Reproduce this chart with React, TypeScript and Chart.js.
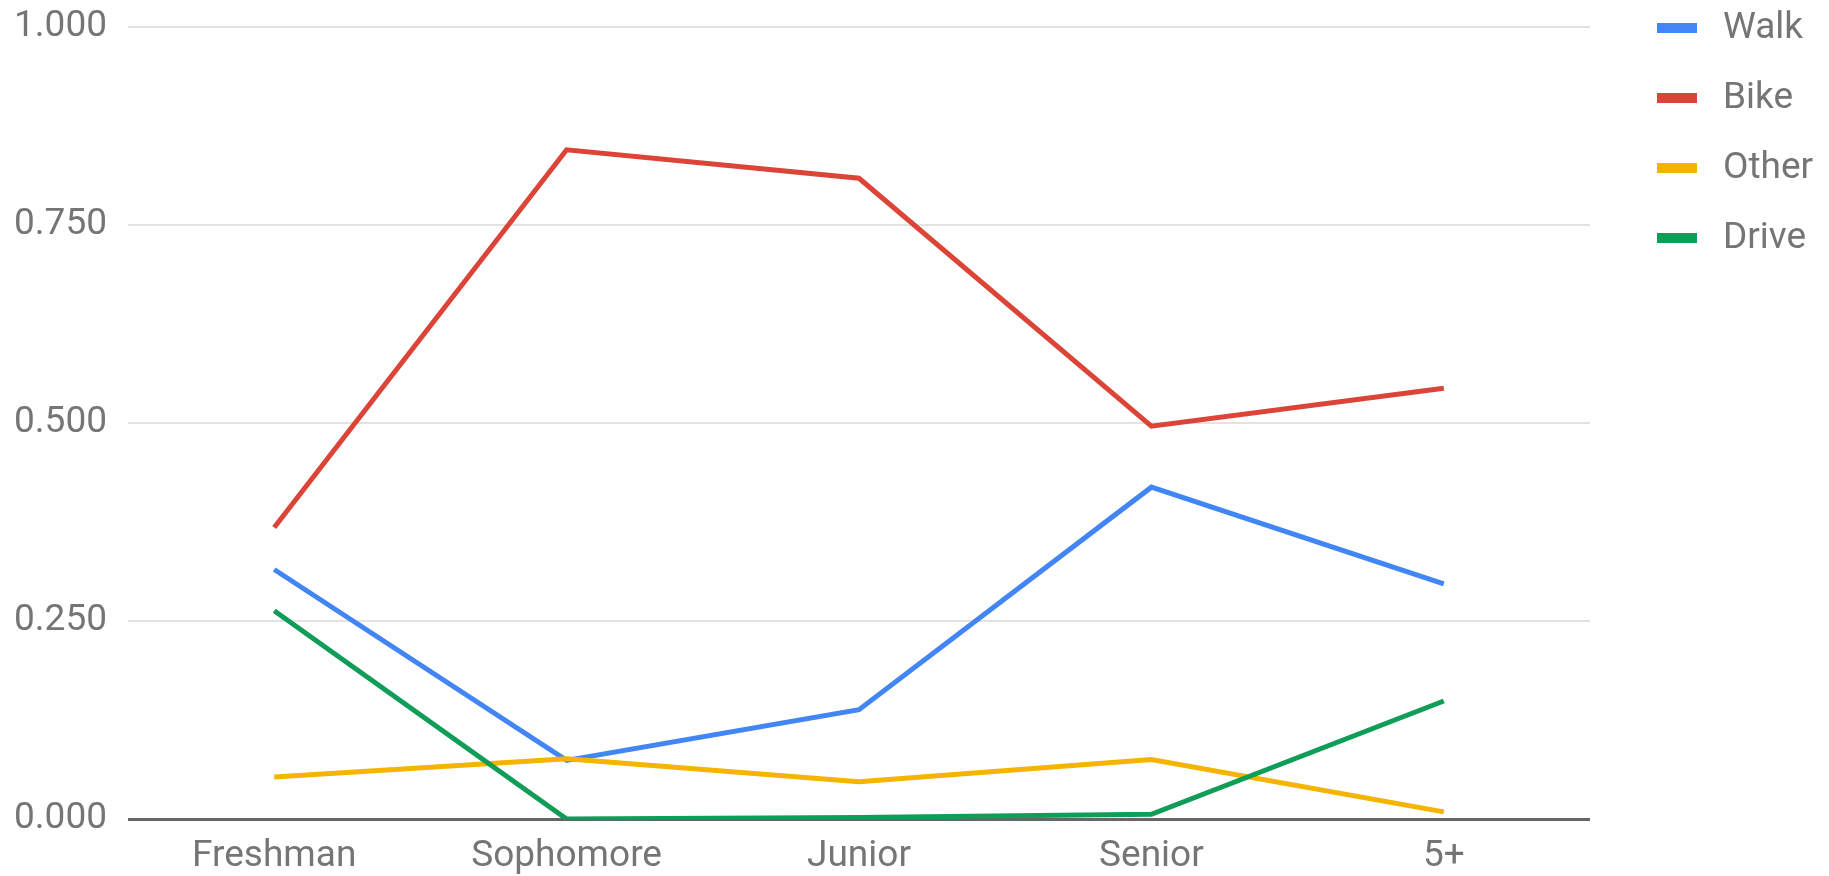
import React, { useEffect, useRef } from "react";
import { Chart, registerables } from "chart.js";

Chart.register(...registerables);

const categories = ["Freshman", "Sophomore", "Junior", "Senior", "5+"];
const walk = [0.315, 0.074, 0.138, 0.419, 0.297];
const bike = [0.368, 0.845, 0.809, 0.496, 0.544];
const other = [0.053, 0.076, 0.047, 0.075, 0.009];
const drive = [0.263, 0.0, 0.002, 0.006, 0.149];
const seriesNames = ["Walk", "Bike", "Other", "Drive"];
const seriesColors = ["#4285F4", "#DB4437", "#F4B400", "#0F9D58"];
const yTicks = [0, 0.25, 0.5, 0.75, 1];

const FONT = "Roboto";
const TEXT = "#757575";

const legendPlugin = {
  id: "sideLegend",
  afterDraw(chart: any) {
    const ctx = chart.ctx;
    ctx.save();
    ctx.font = `37px ${FONT}`;
    ctx.textBaseline = "middle";
    ctx.textAlign = "left";
    chart.data.datasets.forEach((ds: any, i: number) => {
      const cy = 28 + 70 * i;
      ctx.fillStyle = ds.borderColor;
      ctx.fillRect(1657, cy - 5, 40, 10);
      ctx.fillStyle = TEXT;
      ctx.fillText(ds.label, 1723, cy + 1);
    });
    ctx.restore();
  },
};

export default function App() {
  const ref = useRef<HTMLCanvasElement>(null);
  useEffect(() => {
    document.body.style.margin = "0";
    const values = [walk, bike, other, drive];
    const chart = new Chart(ref.current as HTMLCanvasElement, {
      type: "line",
      data: {
        labels: categories,
        datasets: seriesNames.map((name, i) => ({
          label: name,
          data: values[i],
          borderColor: seriesColors[i],
          backgroundColor: seriesColors[i],
          borderWidth: 5,
          pointRadius: 0,
          pointHoverRadius: 0,
          tension: 0,
          fill: false,
          order: 4 - i,
        })),
      },
      options: {
        responsive: false,
        animation: false,
        events: [],
        layout: { padding: { left: 14, right: 239, top: 27, bottom: 0 } },
        plugins: {
          legend: { display: false },
          tooltip: { enabled: false },
        },
        scales: {
          x: {
            offset: true,
            grid: { display: false, drawTicks: false },
            border: { display: false },
            ticks: {
              color: TEXT,
              font: { family: FONT, size: 37, lineHeight: 1.0 },
              padding: 19,
              maxRotation: 0,
            },
            afterFit: (scale: any) => {
              scale.height = 57;
            },
          },
          y: {
            min: 0,
            max: 1,
            afterBuildTicks: (scale: any) => {
              scale.ticks = yTicks.map((v) => ({ value: v }));
            },
            grid: {
              drawTicks: false,
              color: (c: any) => (c.tick && c.tick.value === 0 ? "#666666" : "#e3e3e3"),
              lineWidth: (c: any) => (c.tick && c.tick.value === 0 ? 3 : 2),
            },
            border: { display: false },
            ticks: {
              color: TEXT,
              font: { family: FONT, size: 37, lineHeight: 1.0 },
              padding: 21,
              callback: (v: any) => Number(v).toFixed(3),
            },
            afterFit: (scale: any) => {
              scale.width = 114;
              scale.paddingTop = 0;
              scale.paddingBottom = 0;
            },
          },
        },
      },
      plugins: [legendPlugin],
    });
    return () => chart.destroy();
  }, []);
  return (
    <div style={{ position: "absolute", left: 0, top: 0, width: 1829, height: 876, background: "#fff" }}>
      <canvas ref={ref} width={1829} height={876} style={{ width: 1829, height: 876, display: "block" }} />
    </div>
  );
}
